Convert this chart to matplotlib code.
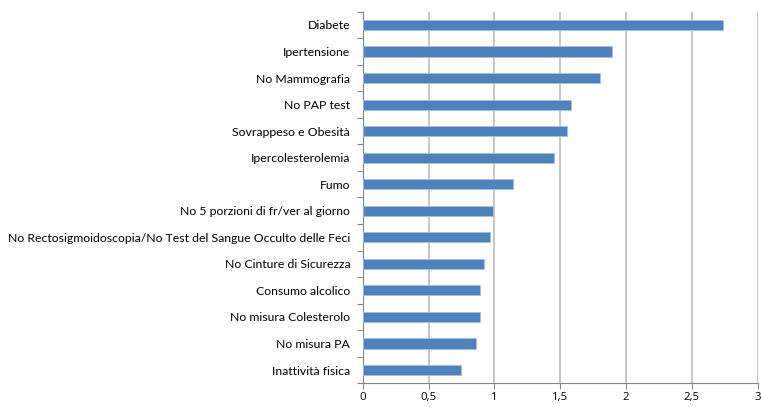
import numpy as np
import matplotlib.pyplot as plt
from matplotlib.ticker import FixedLocator

plt.rcParams['font.family'] = ['Lato', 'DejaVu Sans']

categorie = [
    "Diabete",
    "Ipertensione",
    "No Mammografia",
    "No PAP test",
    "Sovrappeso e Obesità",
    "Ipercolesterolemia",
    "Fumo",
    "No 5 porzioni di fr/ver al giorno",
    "No Rectosigmoidoscopia/No Test del Sangue Occulto delle Feci",
    "No Cinture di Sicurezza",
    "Consumo alcolico",
    "No misura Colesterolo",
    "No misura PA",
    "Inattività fisica",
]
valori = [2.74, 1.89, 1.80, 1.58, 1.55, 1.45, 1.14, 0.99, 0.97, 0.92, 0.89, 0.89, 0.86, 0.75]
tacche_x = [0, 0.5, 1, 1.5, 2, 2.5, 3]
etichette_x = ["0", "0,5", "1", "1,5", "2", "2,5", "3"]

fig = plt.figure(figsize=(7.61, 4.07), dpi=100)
ax = fig.add_axes([0.4766, 0.0582, 0.5191, 0.9131])

n = len(categorie)
y = np.arange(n)[::-1]
ax.barh(y, valori, height=0.38, color="#4F81BD", edgecolor="#A7C0E0",
        linewidth=0.6, zorder=3)

ax.set_xlim(0, 3)
ax.set_ylim(-0.5, n - 0.5)
ax.set_xticks(tacche_x)
ax.set_xticklabels(etichette_x, family=["Open Sans", "DejaVu Sans"], fontsize=8.2)
ax.set_yticks(y)
ax.set_yticklabels(categorie)
ax.yaxis.set_minor_locator(FixedLocator(np.arange(-0.5, n, 1.0)))
ax.tick_params(axis="y", which="major", length=0, pad=9, labelsize=8.8, colors="black")
ax.tick_params(axis="y", which="minor", length=4, color="#868686", width=0.8)
ax.tick_params(axis="x", length=4, color="#868686", width=0.8, pad=2)

ax.grid(axis="x", color="#BEBEBE", linewidth=1.2, zorder=0)
for s in ["top", "right"]:
    ax.spines[s].set_visible(False)
for s in ["left", "bottom"]:
    ax.spines[s].set_color("#868686")
    ax.spines[s].set_linewidth(0.8)

fig.savefig("out.png", dpi=100)
